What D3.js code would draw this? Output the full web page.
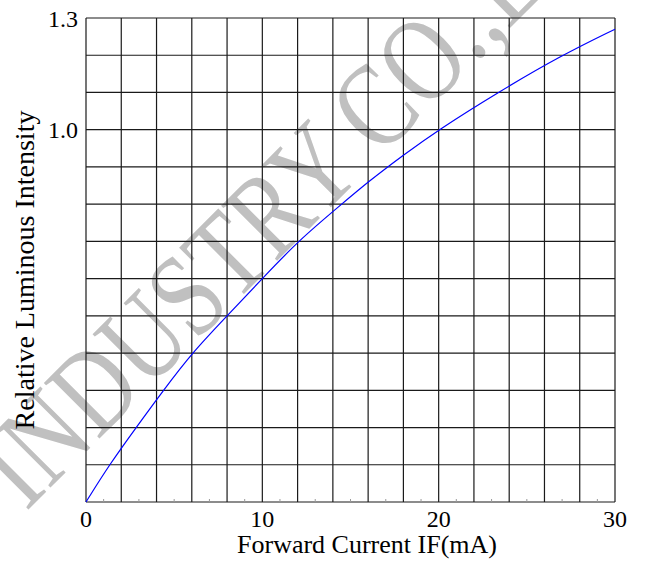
<!DOCTYPE html>
<meta charset="utf-8">
<style>
body { margin: 0; background: #fff; }
text { font-family: "Liberation Serif", "Times New Roman", serif; fill: #000; }
.grid line { stroke: #1a1a1a; stroke-width: 1.2; }
.minor line { stroke: #999; stroke-width: 1; }
.curve { fill: none; stroke: #0000ff; stroke-width: 1.2; }
.mark { fill: #c0c0c0; }
</style>
<body>
<script src="https://cdnjs.cloudflare.com/ajax/libs/d3/7.8.5/d3.min.js"></script>
<script>
// values
var current   = [0, 1.32, 2.84, 4.39, 6, 8, 10, 12, 14.5, 16, 18, 20, 23.35, 26.98, 30];
var intensity = [0, 0.1, 0.2, 0.3, 0.4, 0.5, 0.6, 0.7, 0.8, 0.86, 0.932, 1.0, 1.1, 1.2, 1.27];
var xGrid = d3.range(0, 31, 2);
var xMinor = d3.range(1, 30, 2);
var yGrid = d3.range(0, 13.5, 1).map(function(d) { return d / 10; });
var xLabels = [0, 10, 20, 30];
var yLabels = [1.0, 1.3];

var width = 646, height = 571;
var margin = {top: 18, right: 31, bottom: 69, left: 86};

var svg = d3.select("body").append("svg")
    .attr("width", width)
    .attr("height", height);

var x = d3.scaleLinear().domain([0, 30]).range([margin.left, width - margin.right]);
var y = d3.scaleLinear().domain([0, 1.3]).range([height - margin.bottom, margin.top]);

// watermark
svg.append("text")
    .attr("class", "mark")
    .attr("transform", "translate(26,512) rotate(-45) scale(0.80,1)")
    .style("font-size", "120px")
    .text("INDUSTRY CO.,LTD");

// grid
var g = svg.append("g").attr("class", "grid");
g.selectAll(".vx").data(xGrid).enter().append("line")
    .attr("x1", function(d) { return x(d); })
    .attr("x2", function(d) { return x(d); })
    .attr("y1", y(0)).attr("y2", y(1.3));
g.selectAll(".hy").data(yGrid).enter().append("line")
    .attr("y1", function(d) { return y(d); })
    .attr("y2", function(d) { return y(d); })
    .attr("x1", x(0)).attr("x2", x(30));

svg.append("g").attr("class", "minor")
  .selectAll("line").data(xMinor).enter().append("line")
    .attr("x1", function(d) { return x(d); })
    .attr("x2", function(d) { return x(d); })
    .attr("y1", y(0)).attr("y2", y(0) - 3);

// tick labels
svg.selectAll(".xl").data(xLabels).enter().append("text")
    .attr("x", function(d) { return x(d); })
    .attr("y", y(0) + 25)
    .attr("text-anchor", "middle")
    .style("font-size", "24px")
    .text(function(d) { return d; });

svg.selectAll(".yl").data(yLabels).enter().append("text")
    .attr("x", x(0) - 8)
    .attr("y", function(d) { return y(d) + 8.5; })
    .attr("text-anchor", "end")
    .style("font-size", "24px")
    .text(function(d) { return d.toFixed(1); });

// axis titles
svg.append("text")
    .attr("x", 367)
    .attr("y", 553)
    .attr("text-anchor", "middle")
    .style("font-size", "26px")
    .text("Forward Current IF(mA)");

svg.append("text")
    .attr("transform", "translate(34,270) rotate(-90)")
    .attr("text-anchor", "middle")
    .style("font-size", "28px")
    .text("Relative Luminous Intensity");

// curve
var pts = current.map(function(c, i) { return [c, intensity[i]]; });
var line = d3.line()
    .x(function(d) { return x(d[0]); })
    .y(function(d) { return y(d[1]); })
    .curve(d3.curveBasis);

svg.append("path")
    .datum(pts)
    .attr("class", "curve")
    .attr("d", line);
</script>
</body>
